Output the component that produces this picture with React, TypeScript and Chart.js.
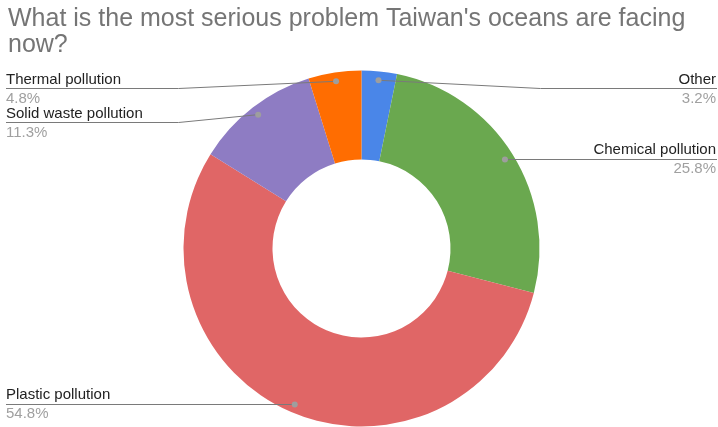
import React, { useEffect, useRef } from "react";
import { Chart, registerables } from "chart.js";

Chart.register(...registerables);

const titleLines = [
  "What is the most serious problem Taiwan's oceans are facing",
  "now?",
];
const categories = [
  "Other",
  "Chemical pollution",
  "Plastic pollution",
  "Solid waste pollution",
  "Thermal pollution",
];
const values = [3.2, 25.8, 54.8, 11.3, 4.8];
const colors = ["#4a86e8", "#6aa84f", "#e06666", "#8e7cc3", "#ff6d01"];

const W = 718;
const H = 427;
const FONT = '"Liberation Sans", Arial, sans-serif';

const labelPlugin = {
  id: "sheetLabels",
  afterDraw(chart: any) {
    const ctx = chart.ctx as CanvasRenderingContext2D;
    ctx.save();
    // Title
    ctx.fillStyle = "#757575";
    ctx.font = `25px ${FONT}`;
    ctx.textAlign = "left";
    ctx.textBaseline = "alphabetic";
    titleLines.forEach((t, i) => ctx.fillText(t, 8, 26 + i * 26));

    const meta = chart.getDatasetMeta(0);
    const items = meta.data.map((arc: any, i: number) => {
      const p = arc.getProps(["x", "y", "startAngle", "endAngle", "outerRadius"], true);
      const mid = (p.startAngle + p.endAngle) / 2;
      const r = p.outerRadius * 0.95;
      return {
        i,
        cx: p.x,
        R: p.outerRadius,
        dx: p.x + Math.cos(mid) * r,
        dy: p.y + Math.sin(mid) * r,
        side: Math.cos(mid) >= 0 ? "right" : "left",
        uy: 0,
      };
    });
    const minY = chart.chartArea.top + 17.5;
    const gap = 34;
    (["left", "right"] as const).forEach((side) => {
      const list = items.filter((d: any) => d.side === side).sort((a: any, b: any) => a.dy - b.dy);
      let prev = -Infinity;
      list.forEach((d: any) => {
        d.uy = Math.max(d.dy, prev + gap, minY);
        prev = d.uy;
      });
    });

    items.forEach((d: any) => {
      const left = d.side === "left";
      const edgeX = left ? 6 : 717;
      const bendX = left ? d.cx - d.R - 5 : d.cx + d.R + 1;
      ctx.strokeStyle = "#7a7a7a";
      ctx.lineWidth = 1;
      ctx.beginPath();
      const uy = Math.round(d.uy) + 0.5;
      ctx.moveTo(edgeX, uy);
      if (Math.abs(d.uy - d.dy) > 0.5) {
        ctx.lineTo(bendX, uy);
        ctx.lineTo(d.dx, d.dy);
      } else {
        ctx.lineTo(d.dx, uy);
      }
      ctx.stroke();
      ctx.fillStyle = "#9e9e9e";
      ctx.beginPath();
      ctx.arc(d.dx, Math.abs(d.uy - d.dy) > 0.5 ? d.dy : uy, 3, 0, Math.PI * 2);
      ctx.fill();

      ctx.textAlign = left ? "left" : "right";
      const tx = left ? 6 : 716;
      ctx.font = `15px ${FONT}`;
      ctx.fillStyle = "#222222";
      ctx.fillText(categories[d.i], tx, d.uy - 4.5);
      ctx.fillStyle = "#a0a0a0";
      ctx.fillText(values[d.i].toFixed(1) + "%", tx, d.uy + 14.5);
    });
    ctx.restore();
  },
};

export default function App() {
  const ref = useRef<HTMLCanvasElement>(null);
  useEffect(() => {
    if (!ref.current) return;
    const chart = new Chart(ref.current, {
      type: "doughnut",
      data: {
        labels: categories,
        datasets: [
          {
            data: values,
            backgroundColor: colors,
            borderWidth: 0,
            hoverOffset: 0,
          },
        ],
      },
      options: {
        responsive: false,
        devicePixelRatio: 1,
        animation: false,
        cutout: "50%",
        layout: { padding: { left: 183.5, right: 178.5, top: 70.5, bottom: 0.5 } },
        plugins: {
          legend: { display: false },
          tooltip: { enabled: false },
          title: { display: false },
        },
      },
      plugins: [labelPlugin],
    });
    return () => chart.destroy();
  }, []);
  return (
    <div style={{ position: "absolute", left: 0, top: 0, width: W, height: H, background: "#fff" }}>
      <canvas ref={ref} width={W} height={H} style={{ display: "block" }} />
    </div>
  );
}
